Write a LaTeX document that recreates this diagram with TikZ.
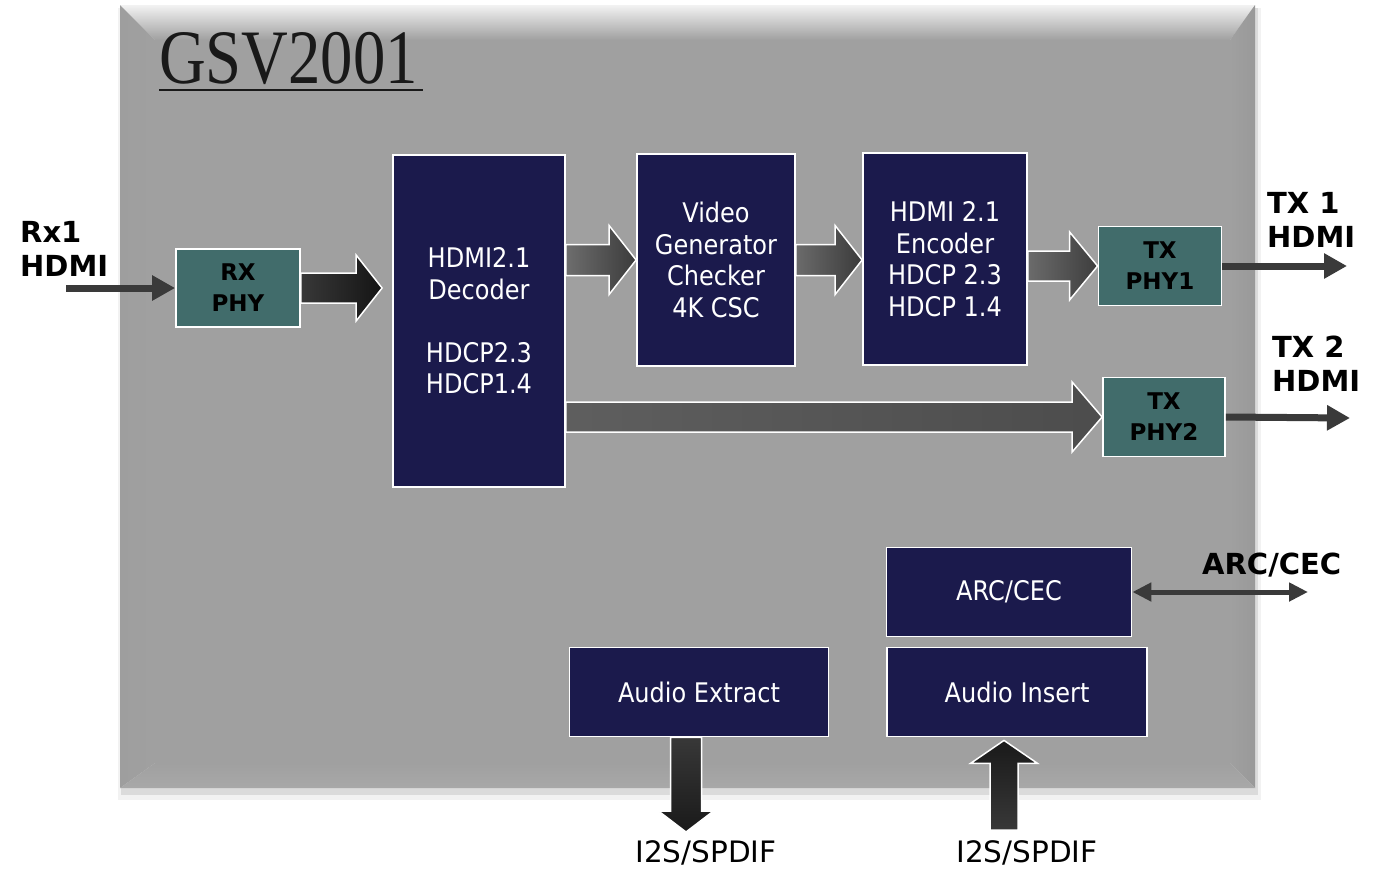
\documentclass[tikz,border=0pt]{standalone}
\usepackage{fontspec}
\setmainfont{DejaVu Sans}
\newfontfamily\tahoma{DejaVu Sans}[FakeStretch=0.89]
\newfontfamily\titlefont{Liberation Serif}[FakeStretch=0.84]
\usetikzlibrary{positioning,calc,arrows.meta}

\definecolor{navy}{RGB}{27,26,76}
\definecolor{phyteal}{RGB}{65,108,107}
\definecolor{facegray}{RGB}{160,160,160}
\definecolor{linegray}{RGB}{58,58,58}

\tikzset{
	blockbox/.style={rectangle, draw=white, line width=1.8pt, fill=navy, text=white, align=center, inner sep=0pt, font=\tahoma\fontsize{27}{31.5}\selectfont},
	phybox/.style={rectangle, draw=white, line width=1.8pt, fill=phyteal, text=black, align=center, inner sep=0pt, font=\bfseries\fontsize{23}{31}\selectfont},
	portlabel/.style={align=left, inner sep=0pt, font=\bfseries\fontsize{29}{34}\selectfont},
	thinarrow/.style={draw=linegray, line width=7pt, -{Triangle[length=23pt,width=24pt]}},
	hblock/.style n args={3}{draw=white, line width=1.5pt, to path={let \p1=(\tikztostart), \p2=(\tikztotarget) in
		(\x1,{\y1+#1}) -- ({\x2-#3},{\y1+#1}) -- ({\x2-#3},{\y1+#2}) -- (\x2,\y1) -- ({\x2-#3},{\y1-#2}) -- ({\x2-#3},{\y1-#1}) -- (\x1,{\y1-#1}) -- cycle}},
	downblock/.style n args={3}{draw=white, line width=1.5pt, to path={let \p1=(\tikztostart), \p2=(\tikztotarget) in
		({\x1-#1},\y1) -- ({\x1-#1},{\y2+#3}) -- ({\x1-#2},{\y2+#3}) -- (\x1,\y2) -- ({\x1+#2},{\y2+#3}) -- ({\x1+#1},{\y2+#3}) -- ({\x1+#1},\y1) -- cycle}},
	upblock/.style n args={3}{draw=white, line width=1.5pt, to path={let \p1=(\tikztostart), \p2=(\tikztotarget) in
		({\x1-#1},\y1) -- ({\x1-#1},{\y2-#3}) -- ({\x1-#2},{\y2-#3}) -- (\x1,\y2) -- ({\x1+#2},{\y2-#3}) -- ({\x1+#1},{\y2-#3}) -- ({\x1+#1},\y1) -- cycle}},
}

\begin{document}
\begin{tikzpicture}[x=1pt,y=-1pt]
	\useasboundingbox (0,0) rectangle (1380,868);
	
	% chip body with bevel and shadow
	\fill[black!5] (118,8) rectangle (1261,800);
	\fill[black!14] (121,8) rectangle (1258,795);
	\fill[facegray] (155,40) rectangle (1230,763);
	\shade[top color=white!95!black, bottom color=facegray] (120,5) -- (1255,5) -- (1230,40) -- (155,40) -- cycle;
	\shade[left color=black!38, right color=facegray] (120,5) -- (155,40) -- (155,763) -- (120,788) -- cycle;
	\shade[left color=facegray, right color=black!40] (1255,5) -- (1255,788) -- (1230,763) -- (1230,40) -- cycle;
	\shade[top color=facegray, bottom color=black!34] (120,788) -- (1255,788) -- (1230,763) -- (155,763) -- cycle;
	
	\node[anchor=base west, inner sep=0pt, font=\titlefont\fontsize{77}{77}\selectfont, text=black!90] (title) at (159,83) {GSV2001};
	\draw[line width=2.5pt, black!90] ($(title.base west)+(0,7)$) -- ++(264,0);
	
	\node[phybox, minimum width=124pt, minimum height=78pt] (rx) at (238,288) {RX\\PHY};
	\node[blockbox, minimum width=172pt, minimum height=332pt] (dec) at (479,321) {HDMI2.1\\Decoder\\[31.5pt]HDCP2.3\\HDCP1.4};
	\node[blockbox, minimum width=158pt, minimum height=212pt] (vid) at (716,260) {Video\\Generator\\Checker\\4K CSC};
	\node[blockbox, minimum width=164pt, minimum height=212pt] (enc) at (945,259) {HDMI 2.1\\Encoder\\HDCP 2.3\\HDCP 1.4};
	\node[phybox, minimum width=123pt, minimum height=79pt] (txa) at (1160,266) {TX\\PHY1};
	\node[phybox, minimum width=122pt, minimum height=79pt] (txb) at (1164,417) {TX\\PHY2};
	\node[blockbox, minimum width=245pt, minimum height=89pt] (arc) at (1009,592) {ARC/CEC};
	\node[blockbox, minimum width=259pt, minimum height=89pt] (ext) at (699,692) {Audio Extract};
	\node[blockbox, minimum width=260pt, minimum height=89pt] (ins) at (1017,692) {Audio Insert};
	
	\node[portlabel, anchor=north west] (rxlbl) at (20,221) {Rx1\\HDMI};
	\node[portlabel, anchor=north west] (txalbl) at (1267,192) {TX 1\\HDMI};
	\node[portlabel, anchor=north west] (txblbl) at (1272,336) {TX 2\\HDMI};
	\node[portlabel, anchor=north west] (arclbl) at (1202,553) {ARC/CEC};
	\node[anchor=base, inner sep=0pt, font=\fontsize{29.5}{34}\selectfont] (exlbl) at (706,862) {I2S/SPDIF};
	\node[anchor=base, inner sep=0pt, font=\fontsize{29.5}{34}\selectfont] (inlbl) at (1027,862) {I2S/SPDIF};
	
	\coordinate (rxin) at (66,288);
	\coordinate (txaout) at (1347,266);
	\coordinate (txbout) at (1350,418);
	\coordinate (arcout) at (1308,592);
	\coordinate (i2sout) at (686,832);
	\coordinate (i2sin) at (1004,830);
	
	% thin port arrows
	\draw[thinarrow] (rxin) -- (rx.west);
	\draw[thinarrow] (txa.east) -- (txaout);
	\draw[thinarrow] (txb.east) -- (txbout);
	\draw[draw=linegray, line width=5pt, {Triangle[length=19pt,width=18pt]}-{Triangle[length=19pt,width=18pt]}] (arc.east) -- (arcout);
	
	% block arrows
	\draw[hblock={15pt}{33pt}{26pt}, left color=black!78, right color=black!92] (rx.east) to ($(dec.west)+(-10,0)$);
	\draw[hblock={15.5pt}{34.5pt}{27pt}, left color=black!57, right color=black!77] (dec.east |- vid.west) to (vid.west);
	\draw[hblock={15.5pt}{34.5pt}{27pt}, left color=black!58, right color=black!77] (vid.east) to (enc.west);
	\draw[hblock={15pt}{34pt}{28pt}, left color=black!58, right color=black!76] (enc.east |- txa.west) to (txa.west);
	\draw[hblock={15pt}{35pt}{30pt}, left color=black!63, right color=black!70] (dec.east |- txb.west) to (txb.west);
	\draw[downblock={15.5pt}{27.5pt}{21pt}, top color=black!78, bottom color=black!90] (i2sout |- ext.south) to (i2sout);
	\draw[upblock={14pt}{33.5pt}{23pt}, top color=black!90, bottom color=black!78] (i2sin) to ($(i2sin |- ins.south)+(0,3)$);
\end{tikzpicture}
\end{document}
